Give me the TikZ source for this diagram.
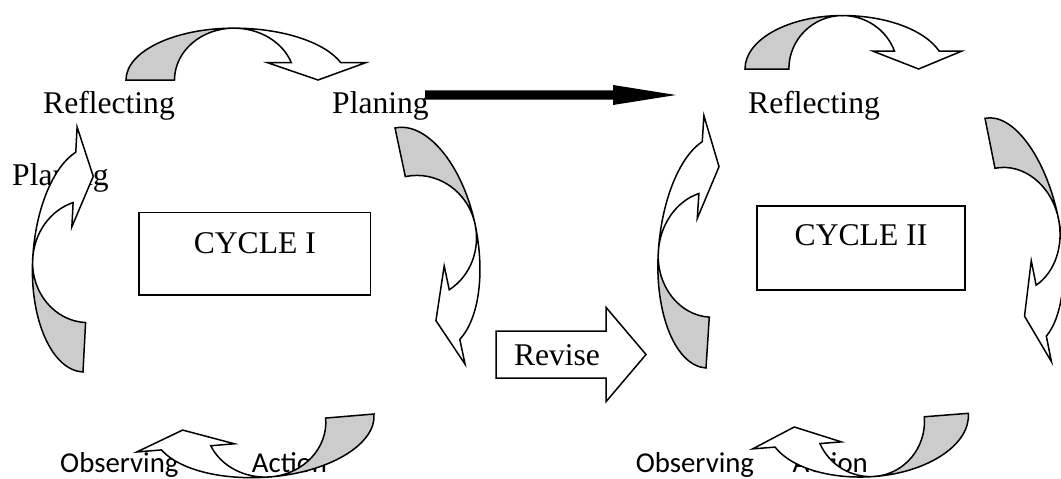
\documentclass[tikz,border=0pt]{standalone}
\usepackage{fontspec}
\setmainfont{Liberation Serif}
\newfontfamily\carlito{Carlito}
\definecolor{shadegray}{RGB}{204,204,204}
\tikzset{
  serif/.style={font=\fontsize{31.6}{36}\selectfont, inner sep=0pt},
  sans/.style={font=\carlito\fontsize{28.8}{33}\selectfont, inner sep=0pt},
  outl/.style={draw=black, line width=1.5pt, line join=miter},
  backband/.style={outl, fill=shadegray},
  frontband/.style={outl, fill=white},
  cyclebox/.style={draw=black, line width=1.5pt, inner sep=0pt, font=\fontsize{31.6}{36}\selectfont},
}
% curved ribbon arrow: #1 name, #2 x, #3 y (outer base corner), #4 rotation, #5 xscale, #6 yscale
\newcommand{\cyclearrow}[6]{%
\begin{scope}[shift={(#2,#3)}, rotate=#4, xscale=#5, yscale=#6]
\coordinate (#1) at (0,0);
\path[backband] (0,0) arc[start angle=180, end angle=270, x radius=109, y radius=54]
  arc[start angle=270, end angle=180, x radius=60, y radius=54] -- cycle;
\path[frontband] (109,-54) arc[start angle=270, end angle=340.53, x radius=114.55, y radius=54]
  -- (242,-18) -- (194,0) -- (143,-18) -- (167,-18)
  arc[start angle=340.53, end angle=270, x radius=61.52, y radius=54] -- cycle;
\end{scope}}
\begin{document}
\begin{tikzpicture}[x=1pt,y=-1pt]
\useasboundingbox (0,0) rectangle (1061,479);
\fill[white] (0,0) rectangle (1061,479);
% labels
\node[serif, anchor=base west] (refl1) at (43,113) {Reflecting};
\node[serif, anchor=base west] (plan1) at (332,113) {Planing};
\node[serif, anchor=base west] (plan1b) at (12,185) {Planing};
\node[serif, anchor=base west] (refl2) at (748,113) {Reflecting};
\node[sans, anchor=base west] (obs1) at (60,472) {Observing};
\node[sans, anchor=base west] (act1) at (251.7,472) {Action};
\node[sans, anchor=base west] (obs2) at (635.6,472) {Observing};
\node[sans, anchor=base east] (act2) at (868,472) {Action};
% cycle boxes
\node[cyclebox, anchor=base, minimum width=231.7pt, text height=40.3pt, text depth=42pt] (cyc1) at (254.8,253) {CYCLE I};
\node[cyclebox, anchor=base, minimum width=208pt, text height=39pt, text depth=45pt] (cyc2) at (861,245) {CYCLE II};
% cycle I arrows
\cyclearrow{aTop1}{126}{80}{0}{0.99}{0.96}
\cyclearrow{aRight1}{395}{128}{-78}{1.015}{1.08}
\cyclearrow{aLeft1}{83}{372}{87}{1.01}{1.04}
\cyclearrow{aBot1}{374}{414}{-175.2}{0.99}{1.0}
% cycle II arrows
\cyclearrow{aTop2}{745}{69}{0}{0.895}{0.99}
\cyclearrow{aLeft2}{706}{368}{86.3}{1.04}{1.02}
\cyclearrow{aRight2}{985}{118.3}{-78.7}{1.04}{0.97}
\cyclearrow{aBot2}{968.3}{413.3}{-175.5}{0.9}{1.03}
% black arrow from Planing towards cycle II
\coordinate (bstart) at (425,95);
\coordinate (btip) at (676,95);
\fill[black] (bstart) ++(0,-4.7) -- ++(188,0) -- ++(0,-5.3) -- (btip) -- ++(-63,10) -- ++(0,-5.3) -- ++(-188,0) -- cycle;
% Revise block arrow
\draw[outl, fill=white] (496,331) -- (606,331) -- (606,307.3) -- (646,354.5) -- (606,401.7) -- (606,378) -- (496,378) -- cycle;
\node[serif, anchor=base] (rev) at (557,365) {Revise};
\end{tikzpicture}
\end{document}
